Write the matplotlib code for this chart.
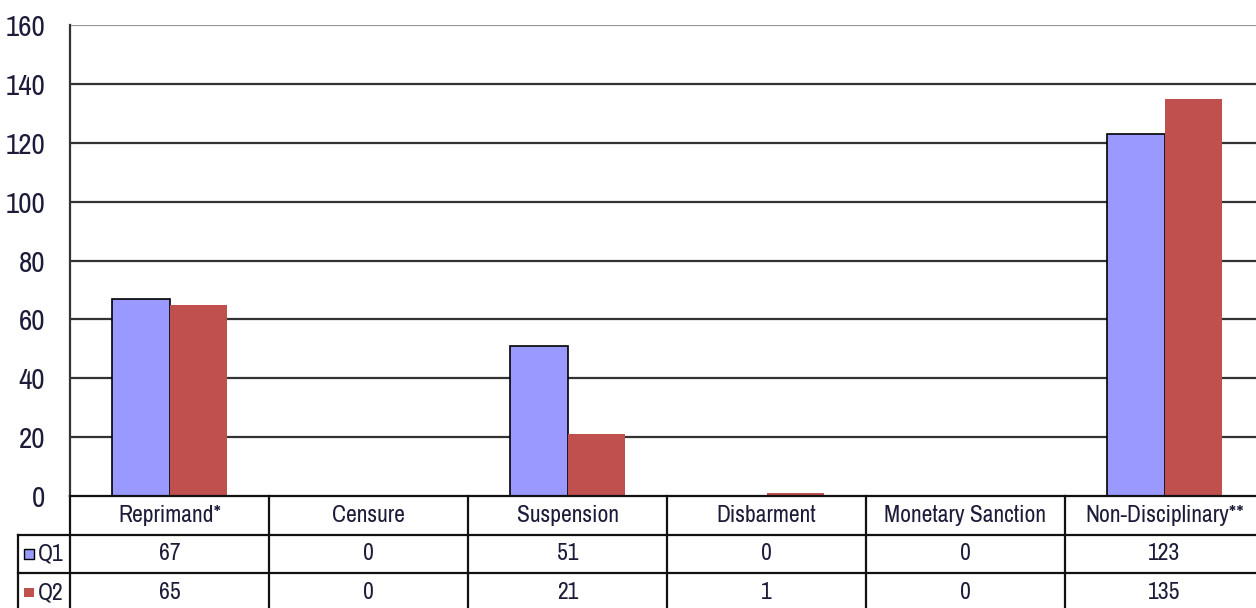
import matplotlib
matplotlib.use('Agg')
import matplotlib.pyplot as plt
import numpy as np

plt.rcParams['font.family'] = ['Archivo Narrow', 'Roboto Condensed', 'DejaVu Sans']

# DATA
categories = ['Reprimand*', 'Censure', 'Suspension', 'Disbarment',
              'Monetary Sanction', 'Non-Disciplinary**']
q1 = [67, 0, 51, 0, 0, 123]
q2 = [65, 0, 21, 1, 0, 135]
series_names = ['Q1', 'Q2']
yticks = [0, 20, 40, 60, 80, 100, 120, 140, 160]

c_q1 = '#9999FF'
c_q2 = '#C0504D'
txt = '#1c1c3a'

W, H = 1256, 608
fig = plt.figure(figsize=(W / 100, H / 100), dpi=100)

# CHART AREA
ax = fig.add_axes([70 / W, (H - 496) / H, 1194 / W, 471 / H])
x = np.arange(len(categories))
width = 0.29
ax.bar(x - width / 2, q1, width, color=c_q1, edgecolor='black', linewidth=1.2, zorder=3)
ax.bar(x + width / 2, q2, width, color=c_q2, edgecolor='none', zorder=3)
ax.set_xlim(-0.5, len(categories) - 0.5)
ax.set_ylim(0, 160)
ax.set_yticks(yticks)
ax.set_yticklabels([str(v) for v in yticks], fontsize=21, color=txt)
ax.tick_params(axis='y', length=0, pad=18)
ax.set_xticks([])
for v in yticks[1:-1]:
    ax.axhline(v, color='#333333', linewidth=1.6, zorder=1)
ax.axhline(160, color='#999999', linewidth=1.6, zorder=1)
for s in ['top', 'right', 'bottom']:
    ax.spines[s].set_visible(False)
ax.spines['left'].set_color('#333333')
ax.spines['left'].set_linewidth(1.6)

# DATA TABLE
tax = fig.add_axes([70 / W, 0, 1194 / W, 112 / H], sharex=ax)
tax.set_ylim(112, 0)
tax.axis('off')
lab_left = -0.5 - 52 / 199
rows = [(0, 39), (39, 77), (77, 116)]
lc = '#111111'
lw = 1.6
tax.plot([-0.5, 5.5], [0, 0], color=lc, lw=lw, clip_on=False)
for yy in [39, 77]:
    tax.plot([lab_left, 5.5], [yy, yy], color=lc, lw=lw, clip_on=False)
for i in range(len(categories) + 1):
    tax.plot([i - 0.5, i - 0.5], [0, 116], color=lc, lw=lw, clip_on=False)
tax.plot([lab_left, lab_left], [39, 116], color=lc, lw=lw, clip_on=False)

for i, cat in enumerate(categories):
    tax.text(i, 20, cat, ha='center', va='center', fontsize=17, color=txt)
for r, (vals, name, col, ec) in enumerate(zip([q1, q2], series_names, [c_q1, c_q2], ['black', 'none'])):
    y0, y1 = rows[r + 1]
    yc = (y0 + y1) / 2
    for i, v in enumerate(vals):
        tax.text(i, yc, str(v), ha='center', va='center', fontsize=17, color=txt)
    tax.scatter([lab_left + 0.055], [yc], marker='s', s=45, color=col,
                edgecolors=ec, linewidths=1.0, clip_on=False)
    tax.text(lab_left + 0.1, yc, name, ha='left', va='center', fontsize=17, color=txt)

fig.savefig('out.png', dpi=100)
